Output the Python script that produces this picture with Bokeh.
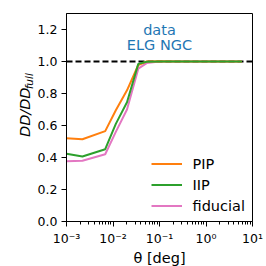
import math
from bokeh.plotting import figure
from bokeh.layouts import row
from bokeh.models import (Range1d, FixedTicker, CustomJSTickFormatter, Span, Legend,
                          LegendItem)
from bokeh.core.properties import value
from bokeh.embed import file_html
from bokeh.resources import INLINE

# ---- data ----
theta = [1.0e-3, 2.2e-3, 6.8e-3, 1.15e-2, 2.0e-2, 3.5e-2, 5.3e-2, 0.1, 0.3, 1.0, 3.0, 5.9]
pip = [0.520, 0.514, 0.565, 0.695, 0.820, 0.978, 1.000, 1.002, 1.000, 1.000, 1.000, 1.000]
iip = [0.423, 0.406, 0.452, 0.610, 0.745, 0.985, 0.998, 1.000, 1.000, 1.000, 1.000, 1.000]
fiducial = [0.377, 0.380, 0.420, 0.560, 0.700, 0.955, 0.990, 1.000, 1.000, 1.000, 1.000, 1.000]
names = ["PIP", "IIP", "fiducial"]
colors = ["#ff7f0e", "#2ca02c", "#e377c2"]
x_major = [1e-3, 1e-2, 1e-1, 1e0, 1e1]
y_major = [0.0, 0.2, 0.4, 0.6, 0.8, 1.0, 1.2]
annot_text = ["data", "ELG NGC"]
annot_x = [0.1, 0.1]
annot_y = [1.194, 1.103]
ylabel_main = "DD/DD"
ylabel_sub = "full"
xlabel = "\u03b8 [deg]"

FONT = "DejaVu Sans"

# ---- narrow figure holding the y-axis label ----
LW = 34
lab = figure(width=LW, height=266, x_range=Range1d(0, LW), y_range=Range1d(0, 266),
             x_axis_location=None, y_axis_location=None, toolbar_location=None,
             output_backend="svg", min_border=0)
lab.grid.visible = False
lab.outline_line_color = None
lab.text(x=[24.6], y=[138.5], text=[ylabel_main], angle=math.pi / 2,
         text_align="center", text_baseline="middle", text_font=value(FONT),
         text_font_size="14.5px", text_font_style="italic", text_color="black")
lab.text(x=[28.4], y=[178.5], text=[ylabel_sub], angle=math.pi / 2,
         text_align="center", text_baseline="middle", text_font=value(FONT),
         text_font_size="10.5px", text_font_style="italic", text_color="black")

# ---- main figure ----
p = figure(frame_width=186, frame_height=208, x_axis_type="log", output_backend="svg",
           toolbar_location=None, x_range=Range1d(1e-3, 1e1), y_range=Range1d(0, 1.3),
           min_border_left=66 - LW, min_border_right=14, min_border_top=13,
           min_border_bottom=45)
p.grid.visible = False
p.outline_line_color = "black"
p.outline_line_width = 1

minor = [m * 10.0 ** e for e in range(-3, 1) for m in range(2, 10)]
p.xaxis.ticker = FixedTicker(ticks=x_major, minor_ticks=minor)
p.xaxis.formatter = CustomJSTickFormatter(code="""
const sup = {'-':'\u207b','0':'\u2070','1':'\u00b9','2':'\u00b2','3':'\u00b3','4':'\u2074','5':'\u2075','6':'\u2076','7':'\u2077','8':'\u2078','9':'\u2079'};
const e = Math.round(Math.log10(tick));
return '10' + String(e).split('').map(c => sup[c]).join('');
""")
p.yaxis.ticker = FixedTicker(ticks=y_major)
p.yaxis.formatter = CustomJSTickFormatter(code="return tick.toFixed(1);")

for ax in (p.xaxis[0], p.yaxis[0]):
    ax.axis_line_color = "black"
    ax.major_tick_line_color = "black"
    ax.major_tick_out = 5
    ax.major_tick_in = 0
    ax.major_label_text_font = FONT
    ax.major_label_text_font_size = "12.5px"
    ax.major_label_text_color = "black"
    ax.major_label_standoff = 4
p.xaxis.minor_tick_line_color = "black"
p.xaxis.minor_tick_out = 3
p.xaxis.minor_tick_in = 0
p.yaxis.minor_tick_line_color = None

p.xaxis.axis_label = xlabel
p.xaxis.axis_label_text_font = FONT
p.xaxis.axis_label_text_font_size = "14.5px"
p.xaxis.axis_label_text_font_style = "normal"
p.xaxis.axis_label_text_color = "black"
p.xaxis.axis_label_standoff = 1

p.add_layout(Span(location=1.0, dimension="width", line_color="black", line_width=2,
                  line_dash="6 3", level="underlay"))

r_f = p.line(theta, fiducial, line_color=colors[2], line_width=2)
r_p = p.line(theta, pip, line_color=colors[0], line_width=2)
r_i = p.line(theta, iip, line_color=colors[1], line_width=2)

p.text(x=annot_x, y=annot_y, text=annot_text, text_align="center", text_baseline="alphabetic",
       text_font=value(FONT), text_font_size="14.5px", text_color="#1f77b4")

legend = Legend(items=[LegendItem(label=names[0], renderers=[r_p]),
                       LegendItem(label=names[1], renderers=[r_i]),
                       LegendItem(label=names[2], renderers=[r_f])],
                location=(84.5, 5), padding=0, margin=0, spacing=0,
                border_line_color=None, background_fill_alpha=0,
                glyph_width=31, glyph_height=21, label_height=21, label_standoff=11,
                label_text_font=FONT, label_text_font_size="14.5px", label_text_color="black")
p.add_layout(legend)

layout = row(lab, p, spacing=0)
open("out.html", "w").write(file_html(layout, INLINE))
